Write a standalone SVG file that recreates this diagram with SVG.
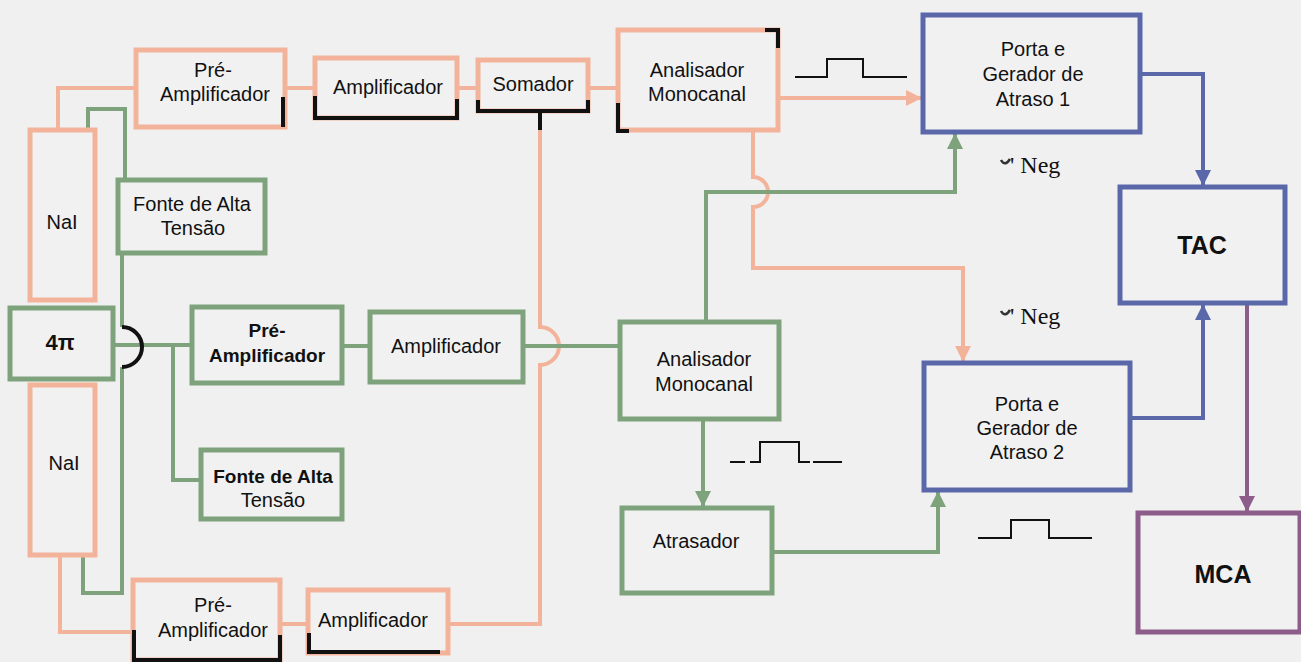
<svg xmlns="http://www.w3.org/2000/svg" width="1301" height="662" viewBox="0 0 1301 662">
<style>
text{font-family:"Liberation Sans",Arial,sans-serif;font-size:20px;fill:#111;text-anchor:middle}
.b{font-weight:bold;font-size:19px}
.big{font-weight:bold;font-size:25px}
.neg{font-family:"Liberation Serif","Times New Roman",serif;font-size:24px;text-anchor:start}
.o{fill:#f1f1f1;stroke:#f3b39a;stroke-width:5}
.g{fill:#f1f1f1;stroke:#7ea37c;stroke-width:5}
.u{fill:#f1f1f1;stroke:#5a68aa;stroke-width:5}
.p{fill:#f1f1f1;stroke:#8c5d8a;stroke-width:5}
.lo{fill:none;stroke:#f3b39a;stroke-width:4}
.lg{fill:none;stroke:#7ea37c;stroke-width:4}
.lu{fill:none;stroke:#5a68aa;stroke-width:4}
.lp{fill:none;stroke:#8c5d8a;stroke-width:4}
.k{fill:none;stroke:#111;stroke-width:4}
.kt{fill:none;stroke:#111;stroke-width:2}
</style>
<defs>
<marker id="ao" viewBox="0 0 16 16" refX="15" refY="8" markerWidth="16" markerHeight="16" markerUnits="userSpaceOnUse" orient="auto"><path d="M0,0 L16,8 L0,16 z" fill="#f3b39a"/></marker>
<marker id="ag" viewBox="0 0 16 16" refX="15" refY="8" markerWidth="16" markerHeight="16" markerUnits="userSpaceOnUse" orient="auto"><path d="M0,0 L16,8 L0,16 z" fill="#7ea37c"/></marker>
<marker id="au" viewBox="0 0 16 16" refX="15" refY="8" markerWidth="16" markerHeight="16" markerUnits="userSpaceOnUse" orient="auto"><path d="M0,0 L16,8 L0,16 z" fill="#5a68aa"/></marker>
<marker id="ap" viewBox="0 0 16 16" refX="15" refY="8" markerWidth="16" markerHeight="16" markerUnits="userSpaceOnUse" orient="auto"><path d="M0,0 L16,8 L0,16 z" fill="#8c5d8a"/></marker>
</defs>
<rect width="1301" height="662" fill="#f0f0f0"/>

<g id="connectors">
<!-- orange -->
<path class="lo" d="M58,130 V88 H136"/>
<path class="lo" d="M285,88 H315"/>
<path class="lo" d="M457,88 H478"/>
<path class="lo" d="M588,88 H618"/>
<path class="lo" d="M778,98 H921" marker-end="url(#ao)"/>
<path class="lo" d="M753,130 V177 A15,15 0 0 1 753,207 V268 H963 V361" marker-end="url(#ao)"/>
<path class="lo" d="M540,111 V327 A19,19 0 0 1 540,365 V624 H448"/>
<path class="lo" d="M280,624 H308"/>
<path class="lo" d="M60,555 V632 H133"/>
<!-- green -->
<path class="lg" d="M88,130 V109 H125 V180"/>
<path class="lg" d="M122,253 V327 M122,367 V593 H83 V555"/>
<path class="lg" d="M113,345 H192"/>
<path class="lg" d="M173,345 V480 H201"/>
<path class="lg" d="M342,346 H370"/>
<path class="lg" d="M523,346 H620"/>
<path class="lg" d="M706,322 V192 H955 V134" marker-end="url(#ag)"/>
<path class="lg" d="M703,419 V506" marker-end="url(#ag)"/>
<path class="lg" d="M772,552 H938 V492" marker-end="url(#ag)"/>
<!-- blue -->
<path class="lu" d="M1140,74 H1203 V185" marker-end="url(#au)"/>
<path class="lu" d="M1130,418 H1203 V305" marker-end="url(#au)"/>
<!-- purple -->
<path class="lp" d="M1247,303 V511" marker-end="url(#ap)"/>
<!-- black hop at 4pi -->
<path class="k" d="M122,327 A20,20 0 0 1 122,367"/>
</g>

<g id="naiTop"><rect class="o" x="30" y="130" width="65" height="170"/><text x="62" y="229">NaI</text></g>
<g id="pi4"><rect class="g" x="10" y="308" width="103" height="71"/><text class="b" x="60" y="350" style="font-size:22px">4π</text></g>
<g id="naiBot"><rect class="o" x="30" y="385" width="65" height="170"/><text x="64" y="470">NaI</text></g>

<g id="preTop"><rect class="o" x="136" y="50" width="149" height="77"/><text x="213" y="77">Pré-</text><text x="215" y="101">Amplificador</text>
<path class="k" d="M283,97 V127"/></g>
<g id="ampTop"><rect class="o" x="315" y="58" width="142" height="60"/><text x="388" y="94">Amplificador</text>
<path class="k" d="M315,96 V118 H457 V99"/></g>
<g id="somador"><rect class="o" x="478" y="60" width="110" height="51"/><text x="533" y="91">Somador</text>
<path class="k" d="M478,100 V111 H588 V100 M540,111 V130"/></g>
<g id="anaTop"><rect class="o" x="618" y="30" width="160" height="100"/><text x="697" y="77">Analisador</text><text x="697" y="101">Monocanal</text>
<path class="k" d="M765,30 H778 V48 M618,103 V131 H629"/></g>
<g id="porta1"><rect class="u" x="923" y="15" width="217" height="117"/><text x="1033" y="56">Porta e</text><text x="1033" y="81">Gerador de</text><text x="1033" y="106">Atraso 1</text></g>
<g id="tac"><rect class="u" x="1120" y="187" width="165" height="116"/><text class="big" x="1202" y="254">TAC</text></g>
<g id="mca"><rect class="p" x="1138" y="513" width="162" height="119"/><text class="big" x="1223" y="583">MCA</text></g>
<g id="porta2"><rect class="u" x="924" y="363" width="206" height="127"/><text x="1027" y="411">Porta e</text><text x="1027" y="435">Gerador de</text><text x="1027" y="459">Atraso 2</text></g>

<g id="fonteTop"><rect class="g" x="118" y="180" width="147" height="73"/><text x="192" y="211">Fonte de Alta</text><text x="193" y="235">Tensão</text></g>
<g id="preMid"><rect class="g" x="192" y="307" width="150" height="76"/><text class="b" x="267" y="337">Pré-</text><text class="b" x="267" y="362">Amplificador</text></g>
<g id="ampMid"><rect class="g" x="370" y="312" width="153" height="70"/><text x="446" y="353">Amplificador</text></g>
<g id="anaMid"><rect class="g" x="620" y="322" width="159" height="97"/><text x="704" y="366">Analisador</text><text x="704" y="391">Monocanal</text></g>
<g id="fonteBot"><rect class="g" x="201" y="450" width="141" height="69"/><text class="b" x="273" y="483">Fonte de Alta</text><text x="273" y="507">Tensão</text></g>
<g id="atrasador"><rect class="g" x="622" y="508" width="150" height="85"/><text x="696" y="548">Atrasador</text></g>

<g id="preBot"><rect class="o" x="133" y="580" width="147" height="80"/><text x="213" y="612">Pré-</text><text x="213" y="637">Amplificador</text>
<path class="k" d="M134,630 V660 H280 V635"/></g>
<g id="ampBot"><rect class="o" x="308" y="590" width="140" height="63"/><text x="373" y="627">Amplificador</text>
<path class="k" d="M309,633 V652 H440"/></g>

<g id="pulses">
<path class="kt" d="M795,77 H827 V59 H863 V77 H907"/>
<path class="kt" d="M730,462 H745 M750,462 H760 V442 H799 V462 H810 M813,462 H842"/>
<path class="kt" d="M978,538 H1011 V520 H1049 V538 H1092"/>
</g>
<g id="negLabels">
<path d="M1001,160 Q1005,167 1010,159" fill="none" stroke="#333" stroke-width="2.5"/>
<text class="neg" x="1010" y="173">' Neg</text>
<path d="M1001,311 Q1005,318 1010,310" fill="none" stroke="#333" stroke-width="2.5"/>
<text class="neg" x="1010" y="324">' Neg</text>
</g>
</svg>
